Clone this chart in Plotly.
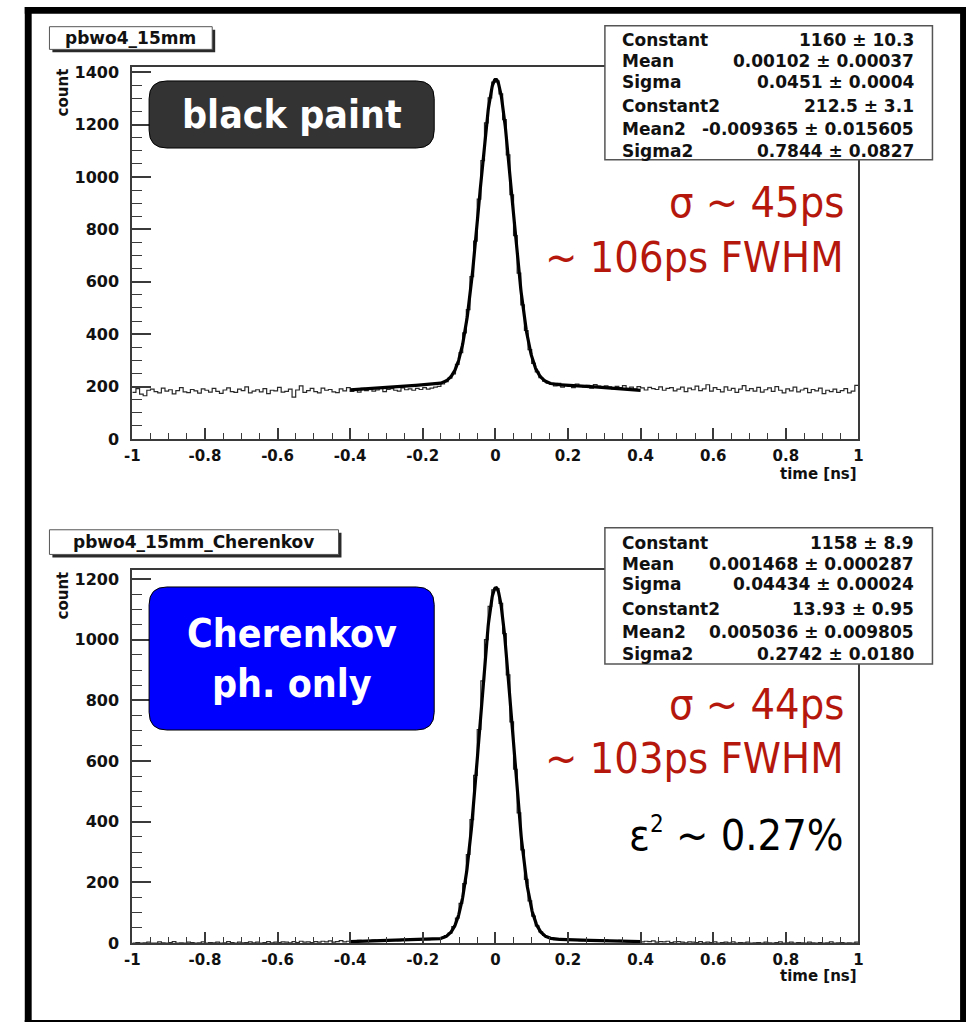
import numpy as np
import plotly.graph_objects as go

W, H = 971, 1032

# ---------------------------------------------------------------------------
# Histogram contents: 200 bins of 10 ps on [-1, 1] ns
# ---------------------------------------------------------------------------
X_LO, X_HI, N_BINS = -1.0, 1.0, 200

counts_black = [
    178, 192, 171, 165, 186, 190, 181, 176, 194, 183,
    188, 172, 185, 196, 180, 177, 189, 184, 175, 191,
    186, 179, 193, 182, 174, 187, 195, 181, 178, 190,
    185, 199, 176, 183, 188, 180, 192, 173, 186, 184,
    197, 179, 182, 190, 160, 187, 203, 178, 185, 193,
    181, 176, 194, 186, 189, 180, 177, 191, 184, 196,
    182, 188, 179, 193, 185, 190, 183, 187, 194, 181,
    189, 192, 186, 183, 195, 188, 191, 186, 193, 189,
    196, 190, 194, 198, 201,
    # peak region -0.15 .. 0.15
    210, 219, 232, 248, 285, 330, 405, 494, 620, 755,
    915, 1062, 1206, 1302, 1362, 1367, 1317, 1219, 1084, 932,
    776, 633, 512, 414, 341, 289, 256, 234, 221, 213,
    209, 203, 212, 198, 207, 201, 196, 210, 204, 199,
    205, 194, 208, 202, 197, 203, 199, 191, 201, 196,
    204, 193, 198, 190, 200, 195, 187, 197, 192, 189,
    199, 186, 193, 196, 184, 190, 198, 181, 194, 188,
    202, 185, 191, 207, 183, 196, 189, 180, 199, 186,
    193, 178, 190, 204, 185, 192, 183, 197, 179, 188,
    195, 182, 200, 186, 176, 191, 184, 198, 180, 187,
    193, 177, 189, 184, 194, 173, 186, 181, 190, 178,
    185, 192, 176, 183, 205,
]

counts_cher = [
    0, 2, 0, 1, 3, 0, 0, 4, 1, 0,
    2, 5, 0, 1, 0, 3, 2, 0, 1, 4,
    0, 2, 1, 3, 0, 1, 5, 2, 0, 3,
    1, 2, 4, 1, 3, 0, 2, 5, 1, 3,
    2, 4, 3, 1, 5, 2, 6, 3, 4, 2,
    5, 3, 6, 4, 7, 3, 5, 8, 4, 6,
    7, 5, 9, 6, 8, 7, 10, 6, 9, 8,
    11, 9, 10, 8, 12, 10, 11, 13, 10, 12,
    14, 11, 13, 15, 14,
    # peak region -0.15 .. 0.15
    18, 25, 33, 54, 82, 131, 196, 292, 407, 553,
    704, 864, 1000, 1110, 1164, 1168, 1120, 1020, 884, 729,
    573, 429, 307, 210, 139, 89, 57, 37, 25, 19,
    13, 11, 12, 10, 12, 9, 11, 10, 8, 11,
    9, 10, 7, 9, 8, 10, 7, 8, 6, 9,
    7, 5, 8, 6, 7, 4, 6, 5, 7, 3,
    5, 4, 6, 2, 4, 5, 3, 1, 4, 3,
    2, 5, 1, 3, 2, 4, 0, 2, 3, 1,
    4, 0, 2, 1, 3, 0, 1, 2, 0, 3,
    1, 0, 2, 4, 0, 1, 3, 0, 2, 1,
    0, 3, 1, 0, 2, 0, 1, 4, 0, 1,
    2, 0, 1, 0, 3,
]

# Double-gaussian fit results (Constant, Mean, Sigma, Constant2, Mean2, Sigma2)
fit_black = [1160, 0.00102, 0.0451, 212.5, -0.009365, 0.7844]
fit_cher = [1158, 0.001468, 0.04434, 13.93, 0.005036, 0.2742]
FIT_RANGE = (-0.4, 0.4)

stat_names = ["Constant", "Mean", "Sigma", "Constant2", "Mean2", "Sigma2"]
stat_text_black = ["1160 ± 10.3", "0.00102 ± 0.00037", "0.0451 ± 0.0004",
                   "212.5 ± 3.1", "-0.009365 ± 0.015605", "0.7844 ± 0.0827"]
stat_text_cher = ["1158 ± 8.9", "0.001468 ± 0.000287", "0.04434 ± 0.00024",
                  "13.93 ± 0.95", "0.005036 ± 0.009805", "0.2742 ± 0.0180"]

x_tick_vals = [-1, -0.8, -0.6, -0.4, -0.2, 0, 0.2, 0.4, 0.6, 0.8, 1]
x_tick_text = ["-1", "-0.8", "-0.6", "-0.4", "-0.2", "0", "0.2", "0.4", "0.6", "0.8", "1"]
y_ticks_black = [0, 200, 400, 600, 800, 1000, 1200, 1400]
y_ticks_cher = [0, 200, 400, 600, 800, 1000, 1200]

# ---------------------------------------------------------------------------
# helpers: pixel -> paper
# ---------------------------------------------------------------------------
def px(x):
    return x / W


def py(y):
    return 1 - y / H


RED = "#b5170d"
AX = "#3a3a3a"
ROOT_FONT = "DejaVu Sans"
SLIDE_FONT = "DejaVu Sans Condensed, DejaVu Sans"

fig = go.Figure()


def double_gauss(x, p):
    c1, m1, s1, c2, m2, s2 = p
    return c1 * np.exp(-0.5 * ((x - m1) / s1) ** 2) + c2 * np.exp(-0.5 * ((x - m2) / s2) ** 2)


edges = np.linspace(X_LO, X_HI, N_BINS + 1)
xf = np.linspace(FIT_RANGE[0], FIT_RANGE[1], 801)

for counts, pars, xa, ya in [(counts_black, fit_black, "x", "y"),
                             (counts_cher, fit_cher, "x2", "y2")]:
    fig.add_trace(go.Scatter(
        x=edges, y=list(counts) + [counts[-1]], mode="lines", line_shape="hv",
        line=dict(color="#2a2a2a", width=1.2), xaxis=xa, yaxis=ya, showlegend=False,
        hoverinfo="skip"))
    fig.add_trace(go.Scatter(
        x=xf, y=double_gauss(xf, pars), mode="lines",
        line=dict(color="black", width=3.2), xaxis=xa, yaxis=ya, showlegend=False,
        hoverinfo="skip"))

x_dom = [px(126), px(862)]


def xaxis_cfg():
    return dict(
        domain=x_dom, range=[X_LO, X_HI], showgrid=False, zeroline=False,
        showline=True, linecolor=AX, linewidth=2, mirror=True,
        tickmode="array", tickvals=x_tick_vals, ticktext=x_tick_text,
        ticks="inside", ticklen=11, tickwidth=1.5, tickcolor=AX,
        minor=dict(tickmode="linear", tick0=-1, dtick=0.05, ticks="inside",
                   ticklen=6, tickwidth=1, tickcolor=AX),
        tickfont=dict(family=ROOT_FONT, size=15, color="#111", weight="bold"),
        ticklabelstandoff=2,
    )


def yaxis_cfg(dom, ymax, ticks, anchor):
    return dict(
        domain=dom, range=[0, ymax], showgrid=False, zeroline=False,
        showline=True, linecolor=AX, linewidth=2, mirror=True, anchor=anchor,
        tickmode="array", tickvals=ticks, ticktext=[str(t) for t in ticks],
        ticks="inside", ticklen=19, tickwidth=1.5, tickcolor=AX,
        minor=dict(tickmode="linear", tick0=0, dtick=50, ticks="inside",
                   ticklen=10, tickwidth=1, tickcolor=AX),
        tickfont=dict(family=ROOT_FONT, size=16, color="#111", weight="bold"),
        ticklabelstandoff=8,
    )


shapes = []
annotations = []


def rect(x0, y0, x1, y1, fill, line_color=None, line_width=0):
    shapes.append(dict(type="rect", xref="paper", yref="paper",
                       x0=px(x0), x1=px(x1), y0=py(y1), y1=py(y0),
                       fillcolor=fill, line=dict(color=line_color or fill, width=line_width)))


def rounded(x0, y0, x1, y1, r, fill, line_color="black"):
    pts = [("M", x0 + r, y0), ("L", x1 - r, y0), ("Q", x1, y0, x1, y0 + r),
           ("L", x1, y1 - r), ("Q", x1, y1, x1 - r, y1), ("L", x0 + r, y1),
           ("Q", x0, y1, x0, y1 - r), ("L", x0, y0 + r), ("Q", x0, y0, x0 + r, y0)]
    path = ""
    for seg in pts:
        cmd, coords = seg[0], seg[1:]
        conv = []
        for i in range(0, len(coords), 2):
            conv.append(f"{px(coords[i]):.5f},{py(coords[i + 1]):.5f}")
        path += cmd + " ".join(conv) + " "
    shapes.append(dict(type="path", xref="paper", yref="paper", path=path + "Z",
                       fillcolor=fill, line=dict(color=line_color, width=1)))


def text(x, y, s, size, color="black", family=ROOT_FONT, xanchor="center",
         yanchor="middle", weight="normal", angle=0):
    annotations.append(dict(x=px(x), y=py(y), xref="paper", yref="paper", text=s,
                            showarrow=False, xanchor=xanchor, yanchor=yanchor,
                            textangle=angle, borderpad=0,
                            font=dict(family=family, size=size, color=color, weight=weight)))


# outer slide frame
rect(17, 3, 24, 1032, "black")
rect(17, 3, 971, 10, "black")
rect(965, 3, 971, 1032, "black")
rect(17, 1030, 971, 1032, "black")

panels = [
    dict(title="pbwo4_15mm", tbox=(42, 23, 207, 46), stats=stat_text_black,
         sbox=(605, 22, 937, 158), rows=[36, 58, 79, 103, 127, 149],
         count_y=64, time_y=476),
    dict(title="pbwo4_15mm_Cherenkov", tbox=(42, 533, 335, 558), stats=stat_text_cher,
         sbox=(605, 531, 937, 669), rows=[546, 568, 588, 613, 637, 659],
         count_y=574, time_y=985),
]

for p in panels:
    x0, y0, x1, y1 = p["tbox"]
    rect(x0 + 3, y0 + 3, x1 + 3, y1 + 3, "#2a2a2a")
    rect(x0, y0, x1, y1, "white", "#555555", 1)
    text((x0 + x1) / 2, (y0 + y1) / 2, p["title"], 17, "#111", weight="bold")

    sx0, sy0, sx1, sy1 = p["sbox"]
    rect(sx0, sy0, sx1, sy1, "white", "#555555", 1.5)
    for name, val, ry in zip(stat_names, p["stats"], p["rows"]):
        text(621, ry, name, 17, "#111", xanchor="left", weight="bold")
        text(919, ry, val, 17, "#111", xanchor="right", weight="bold")

    text(56, p["count_y"], "count", 15, "#111", yanchor="top", weight="bold", angle=-90)
    text(862, p["time_y"], "time [ns]", 15, "#111", xanchor="right", weight="bold")

# slide labels
rounded(143, 78, 432, 146, 18, "#333333")
text(288, 112, "black paint", 39, "white", family=SLIDE_FONT, weight="bold")
rounded(143, 591, 432, 736, 18, "#0000ff")
text(288, 638, "Cherenkov", 39, "white", family=SLIDE_FONT, weight="bold")
text(288, 689, "ph. only", 39, "white", family=SLIDE_FONT, weight="bold")

text(848, 201, "σ ~ 45ps", 43, RED, family=SLIDE_FONT, xanchor="right")
text(848, 256, "~ 106ps FWHM", 43, RED, family=SLIDE_FONT, xanchor="right")
text(848, 710, "σ ~ 44ps", 43, RED, family=SLIDE_FONT, xanchor="right")
text(848, 764, "~ 103ps FWHM", 43, RED, family=SLIDE_FONT, xanchor="right")
text(848, 842, "ε<sup><span style='font-size:24px'>2</span></sup> ~ 0.27%", 43, "black",
     family=SLIDE_FONT, xanchor="right")

fig.update_layout(
    width=W, height=H, autosize=False,
    margin=dict(l=0, r=0, t=0, b=0),
    paper_bgcolor="white", plot_bgcolor="white",
    xaxis=dict(**xaxis_cfg(), anchor="y"),
    yaxis=yaxis_cfg([py(441), py(64)], 1419, y_ticks_black, "x"),
    xaxis2=dict(**xaxis_cfg(), anchor="y2"),
    yaxis2=yaxis_cfg([py(952), py(574)], 1229, y_ticks_cher, "x2"),
    shapes=shapes, annotations=annotations, showlegend=False,
)

fig.write_html("out.html")
